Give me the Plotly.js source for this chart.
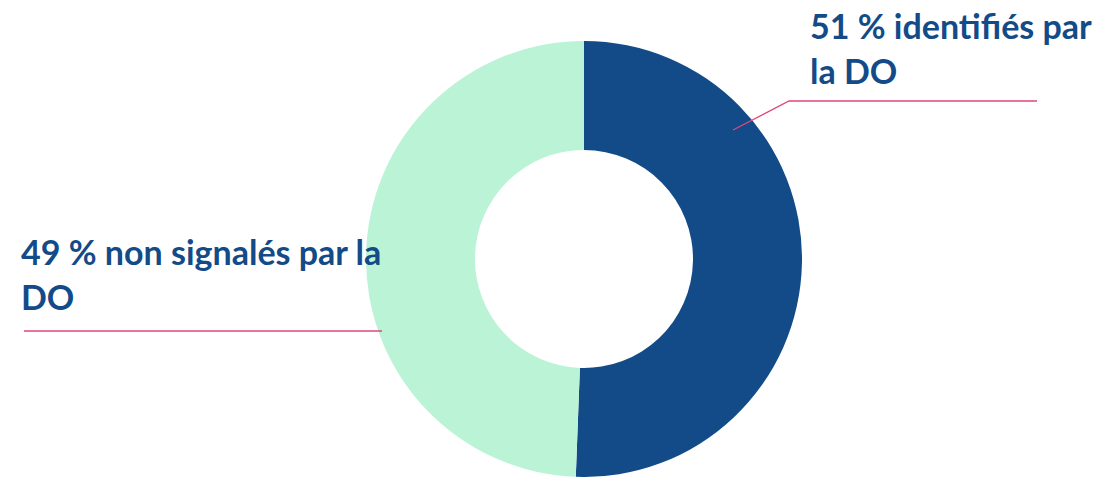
<!DOCTYPE html>
<html><head><meta charset="utf-8">
<script src="https://cdn.plot.ly/plotly-3.0.1.min.js"></script>
<style>html,body{margin:0;padding:0;background:#fff}#c{width:1102px;height:477px}</style>
</head><body><div id="c"></div>
<script>
const categories = ["identifiés par la DO", "non signalés par la DO"];
const values = [50.6, 49.4];
const colors = ["#134B88", "#BBF3D6"];
const labelLines = [["51 % identifiés par", "la DO"], ["49 % non signalés par la", "DO"]];

const W = 1102, H = 477;
const px = x => x / W, py = y => 1 - y / H;

const trace = {
  type: "pie", labels: categories, values: values, hole: 0.5,
  sort: false, direction: "clockwise", rotation: 0,
  marker: { colors: colors, line: { width: 0 } },
  textinfo: "none", hoverinfo: "label+percent", showlegend: false,
  domain: { x: [px(366), px(802)], y: [0, py(41)] }
};

const font = { family: "Lato, 'Open Sans', sans-serif", size: 34, color: "#134B88", weight: 700 };
const ann = [];
const pos = [[808, 3], [19, 229]];
labelLines.forEach((lines, i) => {
  lines.forEach((t, j) => {
    ann.push({ xref: "paper", yref: "paper", x: px(pos[i][0]), y: py(pos[i][1] + j * 45),
      xanchor: "left", yanchor: "top", showarrow: false, text: "<b>" + t + "</b>", font: font });
  });
});
const lc = { color: "#E0457B", width: 1.3 };
const shapes = [
  { type: "path", xref: "paper", yref: "paper",
    path: `M ${px(733)} ${py(130)} L ${px(789)} ${py(101)} L ${px(1037)} ${py(101)}`, line: lc },
  { type: "line", xref: "paper", yref: "paper", x0: px(24), y0: py(331), x1: px(382), y1: py(331), line: lc }
];

Plotly.newPlot("c", [trace], {
  width: W, height: H, margin: { l: 0, r: 0, t: 0, b: 0 },
  paper_bgcolor: "#fff", annotations: ann, shapes: shapes
}, { displayModeBar: false, staticPlot: true });
</script></body></html>
